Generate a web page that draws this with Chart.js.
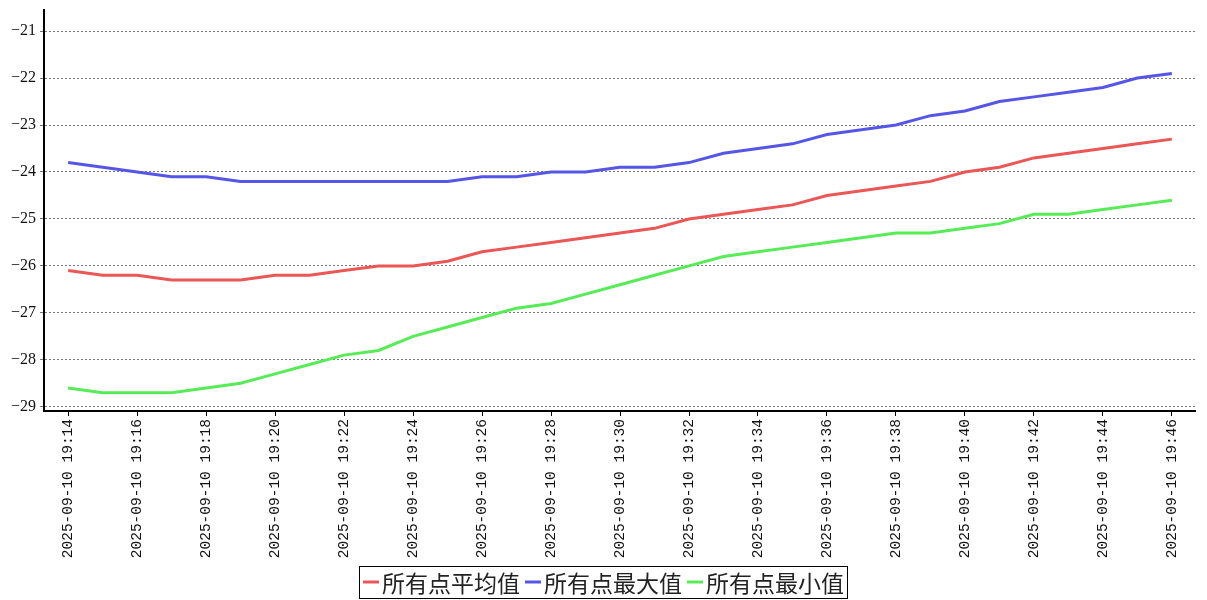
<!DOCTYPE html>
<html>
<head>
<meta charset="utf-8">
<script src="https://cdn.jsdelivr.net/npm/chart.js@4"></script>
<style>
  html, body { margin: 0; padding: 0; background: #fff; }
  #wrap { width: 1207px; height: 600px; }
</style>
</head>
<body>
<div id="wrap"><canvas id="chart" width="1207" height="600"></canvas></div>
<script>
// ------------------------------------------------------
// Dados
// ------------------------------------------------------
const labels = [
  "2025-09-10 19:14", "2025-09-10 19:15", "2025-09-10 19:16", "2025-09-10 19:17",
  "2025-09-10 19:18", "2025-09-10 19:19", "2025-09-10 19:20", "2025-09-10 19:21",
  "2025-09-10 19:22", "2025-09-10 19:23", "2025-09-10 19:24", "2025-09-10 19:25",
  "2025-09-10 19:26", "2025-09-10 19:27", "2025-09-10 19:28", "2025-09-10 19:29",
  "2025-09-10 19:30", "2025-09-10 19:31", "2025-09-10 19:32", "2025-09-10 19:33",
  "2025-09-10 19:34", "2025-09-10 19:35", "2025-09-10 19:36", "2025-09-10 19:37",
  "2025-09-10 19:38", "2025-09-10 19:39", "2025-09-10 19:40", "2025-09-10 19:41",
  "2025-09-10 19:42", "2025-09-10 19:43", "2025-09-10 19:44", "2025-09-10 19:45",
  "2025-09-10 19:46"
];

const mediaValores = [
  -26.1, -26.2, -26.2, -26.3, -26.3, -26.3, -26.2, -26.2, -26.1, -26.0, -26.0,
  -25.9, -25.7, -25.6, -25.5, -25.4, -25.3, -25.2, -25.0, -24.9, -24.8, -24.7,
  -24.5, -24.4, -24.3, -24.2, -24.0, -23.9, -23.7, -23.6, -23.5, -23.4, -23.3
];

const maxValores = [
  -23.8, -23.9, -24.0, -24.1, -24.1, -24.2, -24.2, -24.2, -24.2, -24.2, -24.2,
  -24.2, -24.1, -24.1, -24.0, -24.0, -23.9, -23.9, -23.8, -23.6, -23.5, -23.4,
  -23.2, -23.1, -23.0, -22.8, -22.7, -22.5, -22.4, -22.3, -22.2, -22.0, -21.9
];

const minValores = [
  -28.6, -28.7, -28.7, -28.7, -28.6, -28.5, -28.3, -28.1, -27.9, -27.8, -27.5,
  -27.3, -27.1, -26.9, -26.8, -26.6, -26.4, -26.2, -26.0, -25.8, -25.7, -25.6,
  -25.5, -25.4, -25.3, -25.3, -25.2, -25.1, -24.9, -24.9, -24.8, -24.7, -24.6
];

const seriesNomes = ["所有点平均值", "所有点最大值", "所有点最小值"];
const seriesCores = ["#eb5656", "#5656e6", "#58eb58"];

const yTicks = [-29, -28, -27, -26, -25, -24, -23, -22, -21];

// transforma arrays em pontos {x, y}
function pontos(valores) {
  return valores.map((v, i) => ({ x: i, y: v }));
}

// ------------------------------------------------------
// Legenda com moldura (desenhada no canvas)
// ------------------------------------------------------
const legendaMoldura = {
  id: "legendaMoldura",
  afterDraw(chart) {
    const ctx = chart.ctx;
    ctx.save();
    ctx.font = '23px "Noto Sans CJK SC"';
    ctx.textBaseline = "middle";
    const lineW = 16, gap = 3, sep = 5;
    const itens = chart.data.datasets.map(ds => ({
      text: ds.label,
      color: ds.borderColor,
      w: ctx.measureText(ds.label).width
    }));
    const total = itens.reduce((s, it) => s + lineW + gap + it.w, 0) + sep * (itens.length - 1);
    let x = Math.round((chart.width - total) / 2);
    const yMid = 582;

    ctx.strokeStyle = "#000";
    ctx.lineWidth = 1;
    ctx.strokeRect(x - 3.5, 566.5, total + 7, 32);

    itens.forEach(it => {
      ctx.strokeStyle = it.color;
      ctx.lineWidth = 3;
      ctx.beginPath();
      ctx.moveTo(x, yMid);
      ctx.lineTo(x + lineW, yMid);
      ctx.stroke();
      ctx.fillStyle = "#222";
      ctx.fillText(it.text, x + lineW + gap, yMid + 1);
      x += lineW + gap + it.w + sep;
    });
    ctx.restore();
  }
};

// ------------------------------------------------------
// Gráfico
// ------------------------------------------------------
const ctx = document.getElementById("chart").getContext("2d");

new Chart(ctx, {
  type: "line",
  data: {
    datasets: [
      { label: seriesNomes[0], data: pontos(mediaValores), borderColor: seriesCores[0] },
      { label: seriesNomes[1], data: pontos(maxValores), borderColor: seriesCores[1] },
      { label: seriesNomes[2], data: pontos(minValores), borderColor: seriesCores[2] }
    ]
  },
  options: {
    responsive: false,
    animation: false,
    layout: { padding: { top: 10, right: 12, bottom: 40, left: 0 } },
    elements: {
      line: { borderWidth: 3, tension: 0 },
      point: { radius: 0 }
    },
    plugins: {
      legend: { display: false },
      tooltip: { enabled: false }
    },
    scales: {
      x: {
        type: "linear",
        min: -0.7,
        max: 32.67,
        afterBuildTicks: axis => {
          axis.ticks = labels.map((_, i) => ({ value: i }));
        },
        afterFit: axis => {
          axis.height = 149;
          axis.paddingLeft = 0;
          axis.paddingRight = 0;
        },
        ticks: {
          autoSkip: false,
          maxRotation: 90,
          minRotation: 90,
          padding: 3,
          color: "#111",
          font: { family: '"Liberation Mono"', size: 14.5 },
          callback: (v) => (v % 2 === 0 ? labels[v] : null)
        },
        grid: {
          drawOnChartArea: false,
          drawTicks: true,
          tickLength: 5,
          color: "#000"
        },
        border: { display: true, color: "#000", width: 2 }
      },
      y: {
        min: -29.09,
        max: -20.55,
        afterBuildTicks: axis => {
          axis.ticks = yTicks.map(v => ({ value: v }));
        },
        afterFit: axis => {
          axis.width = 44;
          axis.paddingTop = 0;
          axis.paddingBottom = 0;
        },
        ticks: {
          padding: 4,
          color: "#111",
          font: { family: '"Liberation Serif"', size: 16 },
          callback: v => String(v).replace("-", "\u2212")
        },
        grid: {
          color: "#777",
          lineWidth: 1,
          tickLength: 4
        },
        border: { display: true, color: "#000", width: 2, dash: [2, 2] }
      }
    }
  },
  plugins: [legendaMoldura]
});
</script>
</body>
</html>
